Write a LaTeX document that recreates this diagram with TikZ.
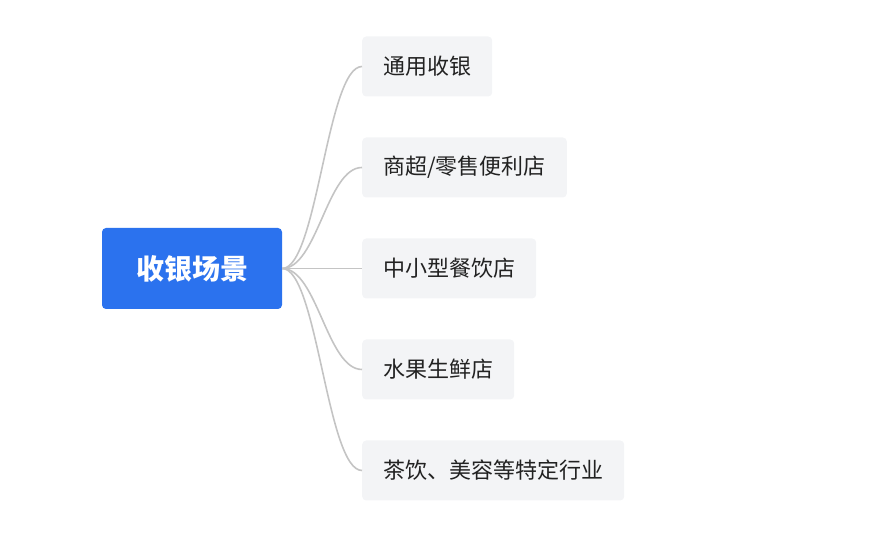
\documentclass[tikz,border=0pt]{standalone}
\usepackage{fontspec}
\newfontfamily\cjk{Noto Sans CJK SC}
\definecolor{rootblue}{HTML}{2B72EE}
\definecolor{leafgray}{HTML}{F3F4F6}
\definecolor{linegray}{HTML}{C4C4C4}
\definecolor{leaftext}{HTML}{222222}
\begin{document}
\begin{tikzpicture}[
		x=1pt, y=1pt,
		grow'=right,
		level 1/.style={level distance=170pt, sibling distance=101pt},
		rootbox/.style={
			fill=rootblue,
			rounded corners=4pt,
			text=white,
			font=\cjk\bfseries\fontsize{28}{32}\selectfont,
			minimum width=180pt,
			minimum height=81pt
		},
		leafbox/.style={
			fill=leafgray,
			rounded corners=4pt,
			text=leaftext,
			anchor=west,
			font=\cjk\fontsize{22}{26}\selectfont,
			inner xsep=21pt,
			minimum height=60pt
		},
		edge from parent/.style={draw=linegray, line width=1.6pt},
		edge from parent path={(\tikzparentnode.east) .. controls +(35,0) and +(-35,0) .. (\tikzchildnode.west)}
		]
		\useasboundingbox (0,0) rectangle (871,553);
		
		\node[rootbox] (scene) at (192,284.5) {收银场景}
		child { node[leafbox] (general) {通用收银} }
		child { node[leafbox] (retail) {商超/零售便利店} }
		child { node[leafbox] (dining) {中小型餐饮店} }
		child { node[leafbox] (fruit) {水果生鲜店} }
		child { node[leafbox] (special) {茶饮、美容等特定行业} };
		
	\end{tikzpicture}
\end{document}
